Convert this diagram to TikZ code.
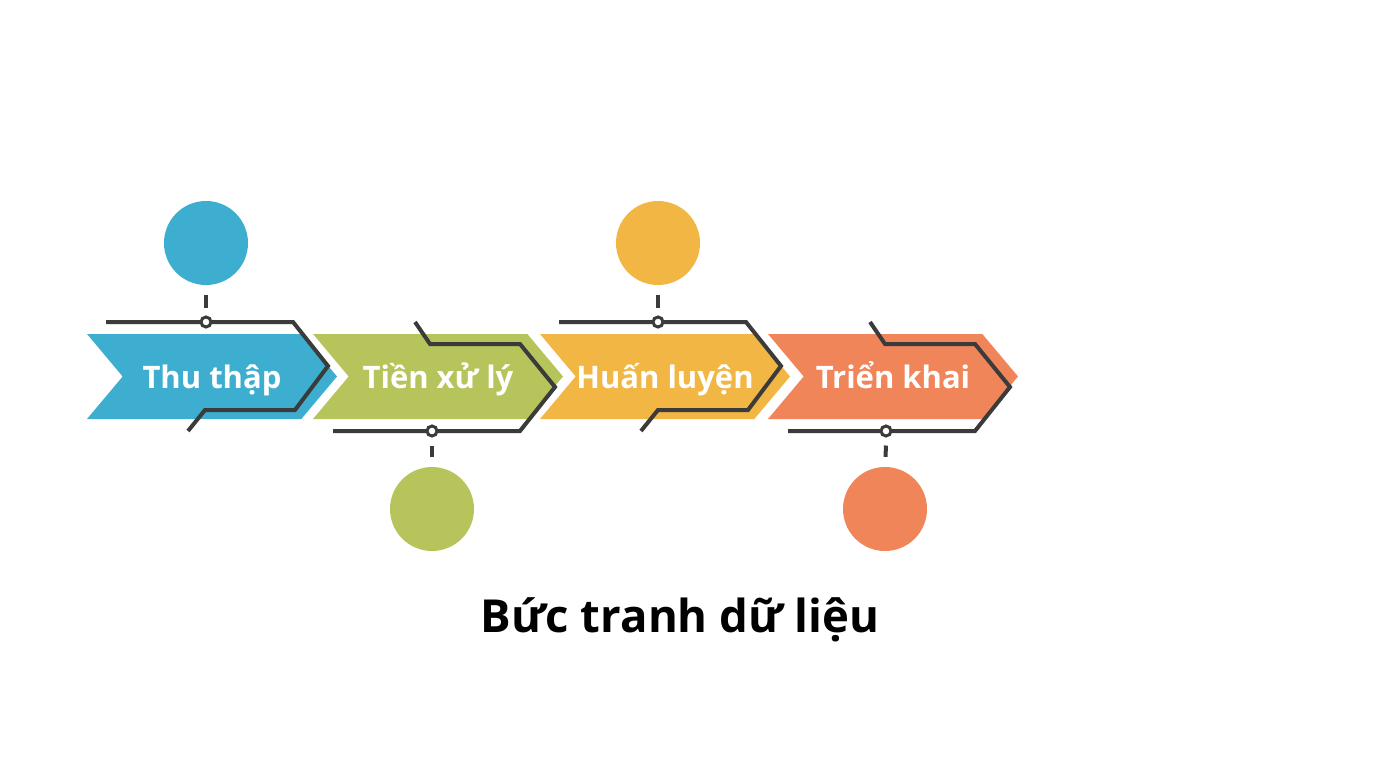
\documentclass[tikz,border=0pt]{standalone}
\usepackage{fontspec}
\setmainfont{Open Sans}
\usetikzlibrary{shapes.symbols}

\definecolor{cblue}{HTML}{3DAED0}
\definecolor{cgreen}{HTML}{B7C45B}
\definecolor{corange}{HTML}{F2B644}
\definecolor{cred}{HTML}{F0855A}
\definecolor{wire}{HTML}{3B3B3B}

\begin{document}
\begin{tikzpicture}[x=1pt, y=-1pt,
        stage/.style={signal, signal from=west, signal to=east, signal pointer angle=100,
            minimum width=250pt, minimum height=85pt, inner sep=0pt, text=white,
            text height=30pt, text depth=7pt,
            font=\bfseries\fontsize{31}{31}\selectfont},
        dot/.style={circle, minimum size=84pt, inner sep=0pt},
        ring/.style={circle, draw=wire, fill=white, line width=3pt, minimum size=10pt, inner sep=0pt},
        wireline/.style={draw=wire, line width=4pt, line join=miter}
    ]
            \useasboundingbox (0,0) rectangle (1376,768);

            \node[stage, fill=cblue] (s1) at (212,376.5) {Thu thập};
            \node[stage, fill=cgreen] (s2) at (438,376.5) {Tiền xử lý};
            \node[stage, fill=corange] (s3) at (665,376.5) {Huấn luyện};
            \node[stage, fill=cred] (s4) at (893,376.5) {Triển khai};

            \draw[wireline] (106,322) -- (293,322) -- (328,366) -- (295,410) -- (205,410) -- (188,431);
            \draw[wireline] (415,322) -- (430,344) -- (520,344) -- (555,387) -- (520,431) -- (333,431);
            \draw[wireline] (559,322) -- (746,322) -- (781,366) -- (748,410) -- (658,410) -- (641,431);
            \draw[wireline] (870,322) -- (885,344) -- (975,344) -- (1010,387) -- (975,431) -- (788,431);

            \begin{scope}[
                    every node/.style={dot}
                ]
                \node[fill=cblue] (c1) at (206,243) {};
                \node[fill=cgreen] (c2) at (432,509) {};
                \node[fill=corange] (c3) at (658,243) {};
                \node[fill=cred] (c4) at (885,509) {};
            \end{scope}

            \node[ring] (k1) at (206,322) {};
            \node[ring] (k2) at (432,431) {};
            \node[ring] (k3) at (658,322) {};
            \node[ring] (k4) at (886,431) {};

            \begin{scope}[
                    every edge/.style={draw=wire, line width=4pt, shorten <=10pt, shorten >=8pt}
                ]
                \draw (c1) edge (k1);
                \draw (c2) edge (k2);
                \draw (c3) edge (k3);
                \draw (c4) edge (k4);
            \end{scope}

            \node[font=\bfseries\fontsize{45.5}{45.5}\selectfont] (title) at (680,620) {Bức tranh dữ liệu};

        \end{tikzpicture}
\end{document}
